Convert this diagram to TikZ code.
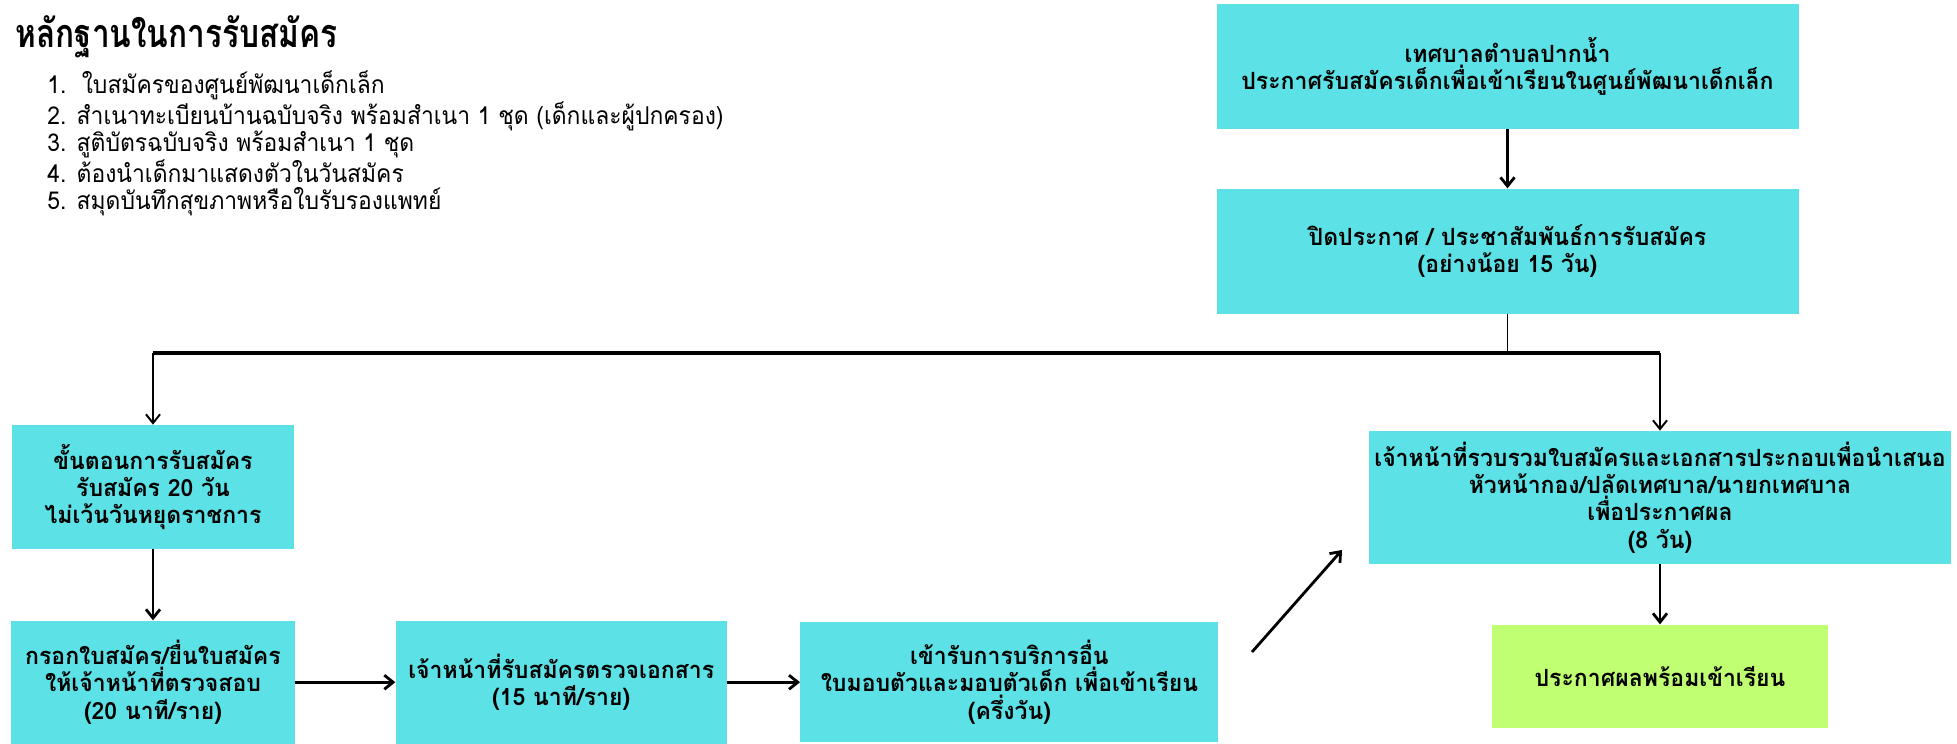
\documentclass[tikz,border=0pt]{standalone}
\usepackage{fontspec}
\setmainfont[Script=Thai]{Loma}
\newfontfamily\titlefont[Script=Thai, FakeStretch=0.8]{Loma}
\newfontfamily\listfont[Script=Thai, FakeStretch=0.93]{Loma}
\newfontfamily\boxfont[Script=Thai, FakeStretch=0.97]{Loma}
\usepackage{tikz}
\usetikzlibrary{arrows.meta, positioning}

\definecolor{boxcyan}{HTML}{5CE1E6}
\definecolor{boxlime}{HTML}{C1FF72}

\tikzset{
  stage/.style={rectangle, fill=boxcyan, align=center, inner sep=0pt,
    font=\boxfont\bfseries\fontsize{13.5}{15.6}\selectfont},
  result/.style={stage, fill=boxlime},
  flow/.style={-{Straight Barb[length=5pt,width=8pt]}, line width=1.6pt},
  thinflow/.style={-{Straight Barb[length=5pt,width=8pt]}, line width=1.1pt},
  bus/.style={line width=2pt},
}

\begin{document}
\begin{tikzpicture}
\useasboundingbox (0,0) rectangle (39.14,-14.86);

% required documents
\node[anchor=west, inner sep=0pt, font=\titlefont\bfseries\fontsize{22.5}{26}\selectfont] (title) at (0.3,-0.74) {หลักฐานในการรับสมัคร};
\node[anchor=north west, inner sep=0pt, align=left, font=\listfont\fontsize{14}{15.4}\selectfont] (docs) at (0.94,-1.41)
  {1.\ \ ใบสมัครของศูนย์พัฒนาเด็กเล็ก\\
   2. สำเนาทะเบียนบ้านฉบับจริง พร้อมสำเนา 1 ชุด (เด็กและผู้ปกครอง)\\
   3. สูติบัตรฉบับจริง พร้อมสำเนา 1 ชุด\\
   4. ต้องนำเด็กมาแสดงตัวในวันสมัคร\\
   5. สมุดบันทึกสุขภาพหรือใบรับรองแพทย์};

% announcement
\node[stage, minimum width=11.64cm, minimum height=2.5cm] (announce) at (30.15,-1.33)
  {เทศบาลตำบลปากน้ำ\\ประกาศรับสมัครเด็กเพื่อเข้าเรียนในศูนย์พัฒนาเด็กเล็ก};
\node[stage, minimum width=11.64cm, minimum height=2.5cm, below=1.18cm of announce] (publicize)
  {ปิดประกาศ / ประชาสัมพันธ์การรับสมัคร\\(อย่างน้อย 15 วัน)};

% left branch
\node[stage, minimum width=5.64cm, minimum height=2.48cm] (steps) at (3.06,-9.74)
  {ขั้นตอนการรับสมัคร\\รับสมัคร 20 วัน\\ไม่เว้นวันหยุดราชการ};
\node[stage, minimum width=5.68cm, minimum height=2.46cm, below=1.42cm of steps] (fillform)
  {กรอกใบสมัคร/ยื่นใบสมัคร\\ให้เจ้าหน้าที่ตรวจสอบ\\(20 นาที/ราย)};
\node[stage, minimum width=6.62cm, minimum height=2.46cm, right=2.0cm of fillform] (check)
  {เจ้าหน้าที่รับสมัครตรวจเอกสาร\\(15 นาที/ราย)};
\node[stage, minimum width=8.36cm, minimum height=2.4cm, right=1.46cm of check] (service)
  {เข้ารับการบริการอื่น\\ใบมอบตัวและมอบตัวเด็ก เพื่อเข้าเรียน\\(ครึ่งวัน)};

% right branch
\node[stage, minimum width=11.64cm, minimum height=2.66cm] (collect) at (33.2,-9.95)
  {เจ้าหน้าที่รวบรวมใบสมัครและเอกสารประกอบเพื่อนำเสนอ\\หัวหน้ากอง/ปลัดเทศบาล/นายกเทศบาล\\เพื่อประกาศผล\\(8 วัน)};
\node[result, minimum width=6.72cm, minimum height=2.06cm, below=1.2cm of collect] (publish)
  {ประกาศผลพร้อมเข้าเรียน};

% connectors
\coordinate (split) at (publicize.south |- 0,-7.06);
\coordinate (busL) at (steps.north |- split);
\coordinate (busR) at (collect.north |- split);
\coordinate (diagS) at (25.04,-13.04);
\coordinate (diagE) at (26.84,-11.0);

\draw[flow] (announce) -- (publicize);
\draw[thinflow, -] (publicize) -- (split);
\draw[bus] (busL) -- (busR);
\draw[thinflow] (busL) -- (steps);
\draw[thinflow] (busR) -- (collect);
\draw[flow] (steps) -- (fillform);
\draw[flow] (fillform) -- (check);
\draw[flow] (check) -- (service);
\draw[flow] (diagS) -- (diagE);
\draw[flow] (collect) -- (publish);
\end{tikzpicture}
\end{document}
